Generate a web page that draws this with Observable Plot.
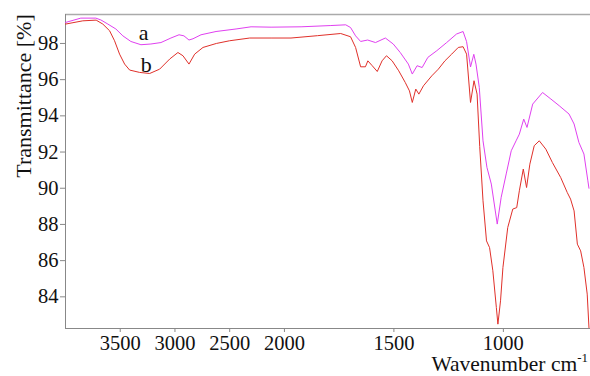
<!DOCTYPE html>
<html><head><meta charset="utf-8">
<script src="https://cdn.jsdelivr.net/npm/d3@7"></script>
<script src="https://cdn.jsdelivr.net/npm/@observablehq/plot@0.6"></script>
<style>body{margin:0;background:#fff}</style>
</head><body><div id="chart"></div>
<script>
const wavenumbersA = [4000,3860,3723,3677,3613,3540,3476,3403,3311,3220,3128,3037,2963,2918,2872,2835,2762,2625,2442,2305,2122,1924,1788,1720,1698,1675,1652,1620,1584,1539,1503,1471,1434,1416,1394,1371,1345,1304,1259,1214,1184,1168,1150,1135,1125,1110,1093,1075,1055,1028,1010,987,964,942,927,907,892,866,821,783,745,700,677,655,632,614,609];
const transmittanceA = [99.16,99.4,99.4,99.3,99.07,98.8,98.42,98.11,97.93,97.97,98.05,98.3,98.48,98.42,98.19,98.26,98.48,98.66,98.8,98.92,98.9,98.92,98.99,99.03,98.88,98.42,98.11,98.19,98.05,98.3,97.97,97.5,96.86,96.31,96.77,96.67,97.23,97.6,98.05,98.52,98.66,98.1,96.7,97.4,96.86,95.57,92.62,91.15,90.23,88.02,89.5,90.79,92.07,92.62,92.99,93.82,93.36,94.65,95.29,94.93,94.56,94.1,93.55,92.53,91.89,90.41,90.0];
const wavenumbersB = [4000,3842,3720,3659,3597,3552,3506,3460,3414,3323,3231,3140,3048,2973,2927,2872,2820,2744,2622,2500,2317,2122,1970,1849,1743,1698,1675,1652,1630,1619,1599,1576,1554,1534,1508,1478,1448,1429,1416,1400,1386,1365,1327,1297,1267,1236,1206,1184,1168,1150,1134,1120,1108,1093,1077,1063,1048,1032,1025,1013,1002,980,957,939,927,909,894,879,859,836,806,776,738,708,693,677,662,647,632,617,609];
const transmittanceB = [99.07,99.25,99.29,99.07,98.7,98.15,97.41,96.86,96.53,96.4,96.34,96.58,97.14,97.5,97.32,96.86,97.41,97.78,98.0,98.15,98.3,98.3,98.3,98.43,98.55,98.37,97.78,96.71,96.71,97.04,96.77,96.45,97.04,97.32,97.04,96.49,95.84,95.38,94.74,95.48,95.2,95.66,96.21,96.58,97.04,97.41,97.78,97.82,97.41,94.74,95.94,95.2,92.3,89.31,87.09,86.72,85.44,83.41,82.49,83.78,85.62,87.83,88.85,88.93,89.86,91.06,90.04,91.33,92.35,92.62,92.16,91.42,90.59,89.76,89.4,88.75,86.91,86.54,85.62,84.15,82.3];
const xTicks = [3500,3000,2500,2000,1500,1000];
const yTicks = [84,86,88,90,92,94,96,98];
const seriesNames = ["a","b"];
const labelX = [3286, 3262];
const labelY = [98.57, 96.82];
const colors = ["#e040f0", "#e0302a"];

const rowsA = wavenumbersA.map((w,i)=>({w, t: transmittanceA[i]}));
const rowsB = wavenumbersB.map((w,i)=>({w, t: transmittanceB[i]}));
const labels = seriesNames.map((s,i)=>({s, x: labelX[i], y: labelY[i]}));

const font = "'Liberation Serif', 'Times New Roman', serif";
const yMin = 82.25, yMax = 99.6, xLeft = 4000, xRight = 602;
// the instrument plot doubles the scale below 2000 cm-1
const breakAt = 2000;
const warp = w => w >= breakAt ? w : breakAt - 2 * (breakAt - w);
const unwarp = t => t >= breakAt ? t : breakAt - (breakAt - t) / 2;

const plot = Plot.plot({
  width: 590, height: 376,
  marginLeft: 65, marginRight: 0, marginTop: 14, marginBottom: 48,
  style: {fontFamily: font, fontSize: "20px", background: "#fff", overflow: "visible", color: "#111"},
  x: {transform: warp, domain: [warp(xLeft), warp(xRight)]},
  y: {domain: [yMin, yMax]},
  marks: [
    Plot.ruleY([yMax], {stroke: "#aaa", strokeWidth: 1.5}),
    Plot.ruleY([yMin], {stroke: "#888"}),
    Plot.ruleX([xLeft], {stroke: "#888"}),
    Plot.axisY({ticks: yTicks, tickSize: 5, tickPadding: 2, label: null, fontSize: 20.5, fontFamily: font, stroke: "#888", fill: "#111"}),
    Plot.axisX({ticks: xTicks.map(warp), tickSize: 4, tickPadding: 3, label: null, fontSize: 20.5, fontFamily: font, stroke: "#888", fill: "#111", tickFormat: t => String(Math.round(unwarp(t)))}),
    Plot.line(rowsA, {x: "w", y: "t", stroke: colors[0], strokeWidth: 1}),
    Plot.line(rowsB, {x: "w", y: "t", stroke: colors[1], strokeWidth: 1}),
    Plot.text(labels, {x: "x", y: "y", text: "s", fontSize: 22, fontFamily: font, fill: "#111"})
  ]
});

const svg = d3.select(plot);
svg.append("text")
  .attr("transform", "translate(31,96) rotate(-90)")
  .attr("text-anchor", "middle")
  .attr("font-family", font).attr("font-size", 22).attr("fill", "#111")
  .text("Transmittance [%]");
const xl = svg.append("text")
  .attr("x", 588).attr("y", 371)
  .attr("text-anchor", "end")
  .attr("font-family", font).attr("font-size", 21.5).attr("fill", "#111");
xl.append("tspan").text("Wavenumber cm");
xl.append("tspan").attr("font-size", 13).attr("dy", -9).text("-1");

document.getElementById("chart").appendChild(plot);
</script>
</body></html>
